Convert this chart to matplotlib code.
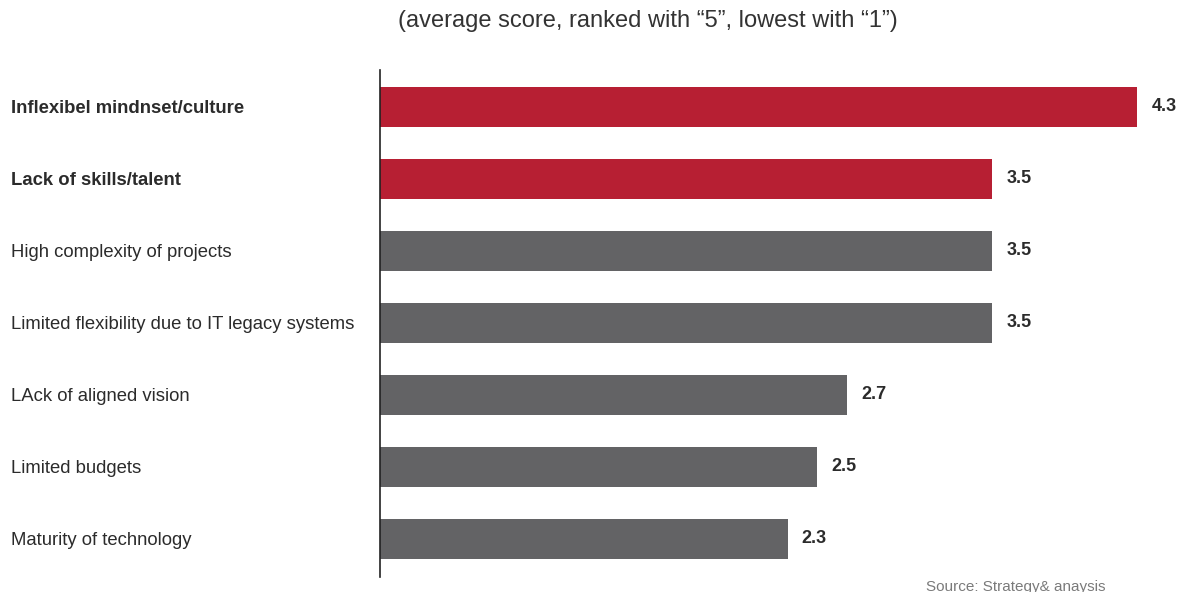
import matplotlib.pyplot as plt

# data
categories = [
    'Inflexibel mindnset/culture',
    'Lack of skills/talent',
    'High complexity of projects',
    'Limited flexibility due to IT legacy systems',
    'LAck of aligned vision',
    'Limited budgets',
    'Maturity of technology',
]
scores = [4.33, 3.5, 3.5, 3.5, 2.67, 2.5, 2.33]
highlight = [True, True, False, False, False, False, False]

RED = '#b71f33'
GREY = '#636365'
TEXT = '#2b2b2b'


def main() -> None:
    plt.rcParams['font.family'] = ['Liberation Sans', 'DejaVu Sans']
    fig = plt.figure(figsize=(11.84, 5.92), dpi=100)
    ax = fig.add_axes([380 / 1184, 1 - 577 / 592, 1 - 380 / 1184, (577 - 70) / 592])

    y = list(range(len(categories)))
    colors = [RED if h else GREY for h in highlight]
    ax.barh(y, scores, height=0.56, color=colors)

    for yi, v in zip(y, scores):
        ax.text(v + 0.08, yi, f'{v:.1f}', va='center', ha='left',
                fontsize=13, fontweight='bold', color=TEXT)

    ax.set_xlim(0, (1184 - 380) / 174.9)
    ax.set_ylim(6.53, -0.51)
    ax.set_yticks(y)
    ax.set_yticklabels(categories)
    for lbl, h in zip(ax.get_yticklabels(), highlight):
        lbl.set_horizontalalignment('left')
        lbl.set_fontsize(13.3)
        lbl.set_color(TEXT)
        if h:
            lbl.set_fontweight('bold')
    # pad in points: label starts ~11 px from the left edge
    ax.tick_params(axis='y', length=0, pad=(380 - 11) * 0.72)
    ax.set_xticks([])
    for s in ['top', 'right', 'bottom']:
        ax.spines[s].set_visible(False)
    ax.spines['left'].set_color('#222222')
    ax.spines['left'].set_linewidth(1.2)

    fig.text(648 / 1184, 1 - 21 / 592, '(average score, ranked with \u201c5\u201d, lowest with \u201c1\u201d)',
             ha='center', va='center', fontsize=17, color='#333333')
    fig.text(926 / 1184, 1 - 587 / 592, 'Source: Strategy& anaysis',
             ha='left', va='center', fontsize=11, color='#7a7a7a')

    fig.savefig('out.png', dpi=100)


if __name__ == "__main__":
    main()
